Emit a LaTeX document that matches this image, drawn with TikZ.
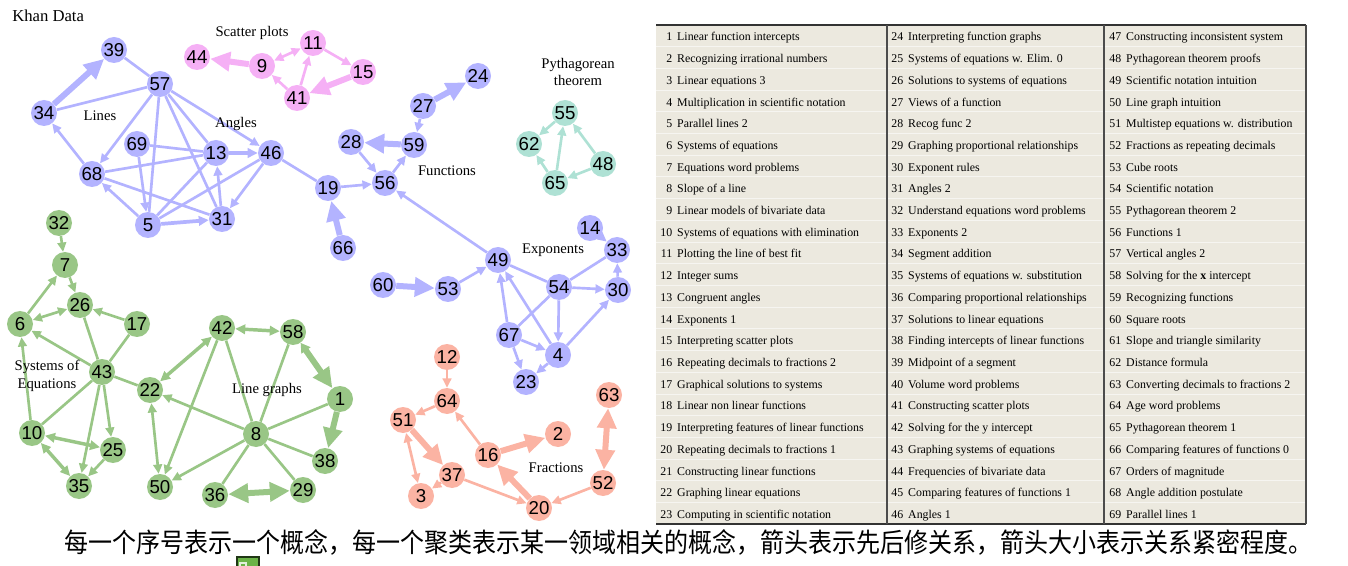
\documentclass[tikz,border=0pt]{standalone}
\usepackage{fontspec}
\setmainfont{Liberation Serif}
\newfontfamily\numfont{Liberation Sans}
\newfontfamily\cjk{Noto Sans CJK SC}
\usetikzlibrary{arrows.meta}
\pgfdeclarelayer{bg}
\pgfsetlayers{bg,main}
\definecolor{cblue}{HTML}{B3B3FF}
\definecolor{cpink}{HTML}{F5B0F5}
\definecolor{cteal}{HTML}{AEE1D4}
\definecolor{cgreen}{HTML}{99C686}
\definecolor{csalm}{HTML}{FBB3A3}
\definecolor{tablebg}{HTML}{ECE9DF}
\definecolor{sqgreen}{HTML}{6BB347}
\tikzset{
  x=0.75pt, y=-0.75pt,
  cn/.style={circle, minimum size=19.5pt, inner sep=0pt, font=\numfont\fontsize{14}{15}\selectfont, text=black},
  bn/.style={cn, fill=cblue},
  pn/.style={cn, fill=cpink},
  tn/.style={cn, fill=cteal},
  gn/.style={cn, fill=cgreen},
  sn/.style={cn, fill=csalm},
  lbl/.style={font=\fontsize{11}{13}\selectfont, align=center, inner sep=0pt},
  tabtxt/.style={font=\fontsize{8.9}{10}\selectfont, inner sep=0pt, anchor=base west},
  ebase/.style={line width=2pt},
  eln/.style={},
  ear/.style={-{Triangle[length=7pt,width=6.5pt]}},
  ebi/.style={{Triangle[length=7pt,width=6.5pt]}-{Triangle[length=7pt,width=6.5pt]}},
  emedar/.style={line width=2.8pt, -{Triangle[length=7.5pt,width=7pt]}},
  emedbi/.style={line width=2.6pt, {Triangle[length=7.5pt,width=7pt]}-{Triangle[length=7.5pt,width=7pt]}},
  efat/.style={line width=4.5pt, -{Triangle[length=15pt,width=14pt]}},
  efatb/.style={line width=4.5pt, {Triangle[length=7pt,width=8pt]}-{Triangle[length=15pt,width=14pt]}},
  efatbi/.style={line width=4.5pt, {Triangle[length=15pt,width=14pt]}-{Triangle[length=15pt,width=14pt]}},
}
\begin{document}
\begin{tikzpicture}
\useasboundingbox (0,0) rectangle (1348,566);
% title and cluster labels
\node[font=\fontsize{12.5}{14}\selectfont, anchor=west, inner sep=0pt] (title) at (12,16) {Khan Data};
\node[lbl] (lscatter) at (252,33) {Scatter plots};
\node[lbl] (llines) at (100,116) {Lines};
\node[lbl] (langles) at (236,124) {Angles};
\node[lbl] (lpyth) at (578,72) {Pythagorean\\theorem};
\node[lbl] (lfunc) at (447,171) {Functions};
\node[lbl] (lexp) at (553,250) {Exponents};
\node[lbl] (lsys) at (47,376) {Systems of\\Equations};
\node[lbl] (lline) at (267,390) {Line graphs};
\node[lbl] (lfrac) at (556,468) {Fractions};
% blue nodes
\foreach \n/\x/\y in {39/114/50, 57/160/84, 34/44/113, 68/92/174, 69/137/144, 13/216/153, 46/271/153, 5/148/225, 31/222/219, 19/328/188, 56/385/183, 28/351/142, 59/414/145, 27/423/106, 24/478/76, 66/343/248, 49/498/260, 60/383/285, 53/448/289, 54/559/287, 14/590/228, 33/617/250, 30/618/290, 67/509/335, 4/558/355, 23/526/382}
  \node[bn] (n\n) at (\x,\y) {\n};
% pink
\foreach \n/\x/\y in {44/197/57, 9/262/66, 11/313/43, 15/363/72, 41/297/98}
  \node[pn] (n\n) at (\x,\y) {\n};
% teal
\foreach \n/\x/\y in {55/565/113, 62/529/144, 48/603/164, 65/555/183}
  \node[tn] (n\n) at (\x,\y) {\n};
% green
\foreach \n/\x/\y in {32/59/223, 7/65/265, 26/80/305, 6/20/324, 17/137/324, 43/102/372, 22/150/390, 10/32/433, 25/113/450, 35/79/486, 42/222/328, 58/293/332, 1/340/399, 8/256/434, 38/325/461, 50/160/487, 36/215/495, 29/303/490}
  \node[gn] (n\n) at (\x,\y) {\n};
% salmon
\foreach \n/\x/\y in {12/447/357, 64/447/401, 51/403/420, 2/558/434, 16/488/455, 37/452/475, 3/421/496, 63/609/395, 52/603/483, 20/539/508}
  \node[sn] (n\n) at (\x,\y) {\n};
% edges
\begin{pgfonlayer}{bg}
\foreach \a/\b/\s in {34/39/efat, 39/57/eln, 57/34/eln, 68/34/ear, 57/68/ear, 57/5/eln, 57/31/eln, 57/13/eln, 57/46/ear, 69/13/eln, 69/5/ear, 68/13/eln, 68/31/eln, 5/68/ear, 5/31/emedar, 5/13/eln, 5/46/eln, 13/46/emedar, 31/13/ear, 46/31/ear, 46/19/eln, 66/19/efat, 19/56/ear, 28/56/ear, 56/59/ear, 59/28/efat, 27/59/ear, 27/24/efat, 49/56/ear, 53/49/ear, 60/53/efat, 49/54/eln, 54/30/ear, 54/33/eln, 14/33/ear, 30/33/ear, 4/30/ear, 54/4/ear, 4/49/ear, 67/49/ear, 67/54/eln, 67/4/ear, 67/23/ear, 4/23/ear}
  \draw[draw=cblue, fill=cblue, ebase, \s] (n\a) -- (n\b);
\foreach \a/\b/\s in {9/44/efat, 9/11/ebi, 41/9/ear, 41/11/ear, 11/15/ear, 15/41/efat}
  \draw[draw=cpink, fill=cpink, ebase, \s] (n\a) -- (n\b);
\foreach \a/\b/\s in {55/62/ear, 65/55/ear, 65/62/ear, 48/55/ear, 48/65/ear}
  \draw[draw=cteal, fill=cteal, ebase, \s] (n\a) -- (n\b);
\foreach \a/\b/\s in {32/7/ear, 6/7/ear, 7/26/ear, 6/26/ebi, 17/26/ear, 43/6/ear, 43/26/eln, 43/17/eln, 10/6/ear, 43/10/eln, 43/25/ear, 43/35/ear, 10/25/emedbi, 10/35/emedbi, 25/35/ear, 43/22/eln, 22/42/emedbi, 22/50/ebi, 42/50/ear, 42/58/emedbi, 42/8/eln, 58/8/eln, 58/1/efatb, 1/38/efat, 8/1/eln, 8/38/eln, 8/29/eln, 8/36/eln, 8/22/ear, 8/50/ear, 36/29/efatbi}
  \draw[draw=cgreen, fill=cgreen, ebase, \s] (n\a) -- (n\b);
\foreach \a/\b/\s in {12/64/ear, 64/51/ear, 51/37/efat, 51/3/ebi, 37/3/ear, 37/20/ear, 16/64/ear, 16/2/efat, 20/16/efat, 52/20/ear, 63/52/efatbi}
  \draw[draw=csalm, fill=csalm, ebase, \s] (n\a) -- (n\b);
\end{pgfonlayer}
% table
\fill[tablebg] (656,25) rectangle (1306,524);
\foreach \r in {1,...,22}
  \draw[white!55!tablebg, line width=0.6pt] (656,25+\r*21.7) -- (1306,25+\r*21.7);
\draw[black!80, line width=1.5pt] (656,25) -- (1306,25);
\draw[black!80, line width=0.8pt] (656,524) -- (1306,524);
\draw[black!70, line width=0.8pt] (887,25) -- (887,524);
\draw[black!70, line width=0.8pt] (1104,25) -- (1104,524);
\draw[black!70, line width=0.8pt] (1306,25) -- (1306,524);
\foreach \i/\t in {1/Linear function intercepts, 2/Recognizing irrational numbers, 3/Linear equations 3, 4/Multiplication in scientific notation, 5/Parallel lines 2, 6/Systems of equations, 7/Equations word problems, 8/Slope of a line, 9/Linear models of bivariate data, 10/Systems of equations with elimination, 11/Plotting the line of best fit, 12/Integer sums, 13/Congruent angles, 14/Exponents 1, 15/Interpreting scatter plots, 16/Repeating decimals to fractions 2, 17/Graphical solutions to systems, 18/Linear non linear functions, 19/Interpreting features of linear functions, 20/Repeating decimals to fractions 1, 21/Constructing linear functions, 22/Graphing linear equations, 23/Computing in scientific notation, 24/Interpreting function graphs, 25/Systems of equations w. Elim. 0, 26/Solutions to systems of equations, 27/Views of a function, 28/Recog func 2, 29/Graphing proportional relationships, 30/Exponent rules, 31/Angles 2, 32/Understand equations word problems, 33/Exponents 2, 34/Segment addition, 35/Systems of equations w. substitution, 36/Comparing proportional relationships, 37/Solutions to linear equations, 38/Finding intercepts of linear functions, 39/Midpoint of a segment, 40/Volume word problems, 41/Constructing scatter plots, 42/Solving for the y intercept, 43/Graphing systems of equations, 44/Frequencies of bivariate data, 45/Comparing features of functions 1, 46/Angles 1, 47/Constructing inconsistent system, 48/Pythagorean theorem proofs, 49/Scientific notation intuition, 50/Line graph intuition, 51/Multistep equations w. distribution, 52/Fractions as repeating decimals, 53/Cube roots, 54/Scientific notation, 55/Pythagorean theorem 2, 56/Functions 1, 57/Vertical angles 2, 58/Solving for the \textbf{x} intercept, 59/Recognizing functions, 60/Square roots, 61/Slope and triangle similarity, 62/Distance formula, 63/Converting decimals to fractions 2, 64/Age word problems, 65/Pythagorean theorem 1, 66/Comparing features of functions 0, 67/Orders of magnitude, 68/Angle addition postulate, 69/Parallel lines 1}
{
  \pgfmathtruncatemacro\col{(\i-1)/23}
  \pgfmathtruncatemacro\row{\i-1-23*\col}
  \pgfmathsetmacro\xx{{660,891,1109}[\col]}
  \node[tabtxt] (t\i) at (\xx,41+\row*21.7) {\makebox[9pt][r]{\i}\hspace{3.7pt}\t};
}
% caption
\node[font=\cjk\fontsize{20}{22}\selectfont, inner sep=0pt] (cap) at (688,542) {\scalebox{0.9}[1]{每一个序号表示一个概念，每一个聚类表示某一领域相关的概念，箭头表示先后修关系，箭头大小表示关系紧密程度。}};
% small green square
\begin{scope}
\clip (0,0) rectangle (1348,566);
\draw[fill=sqgreen, draw=black!70!sqgreen, line width=0.8pt] (237,557) rectangle (259,574);
\draw[white!80!sqgreen, line width=0.8pt] (240,574) -- (240,563) -- (246,563) -- (246,574);
\end{scope}
\end{tikzpicture}
\end{document}
